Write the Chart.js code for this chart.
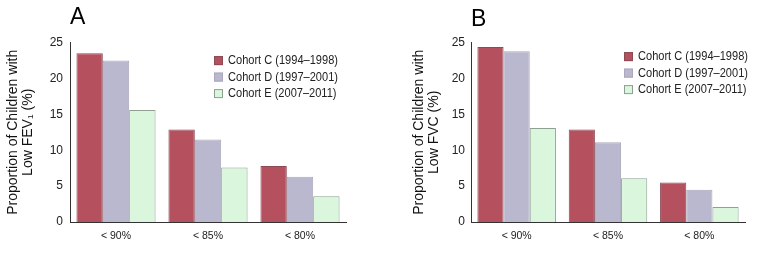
<!DOCTYPE html>
<html>
<head>
<meta charset="utf-8">
<script src="https://cdn.jsdelivr.net/npm/chart.js@4"></script>
<style>
  body { margin: 0; background: #fff; }
  .wrap { display: flex; width: 782px; height: 264px; }
  .panel { width: 391px; height: 264px; position: relative; }
</style>
</head>
<body>
<div class="wrap">
  <div class="panel"><canvas id="chartA" width="391" height="264"></canvas></div>
  <div class="panel"><canvas id="chartB" width="391" height="264"></canvas></div>
</div>
<script>
// categories and cohorts
var categories = ['< 90%', '< 85%', '< 80%'];
var cohorts = ['Cohort C (1994\u20131998)', 'Cohort D (1997\u20132001)', 'Cohort E (2007\u20132011)'];

// panel A: low FEV1
var fevC = [23.5, 12.9, 7.8];
var fevD = [22.5, 11.5, 6.3];
var fevE = [15.6, 7.6, 3.6];

// panel B: low FVC
var fvcC = [24.4, 12.9, 5.5];
var fvcD = [23.8, 11.1, 4.5];
var fvcE = [13.1, 6.1, 2.1];

var yTicks = [0, 5, 10, 15, 20, 25];

var fills = ['#b5505f', '#b9b8cf', '#daf7dd'];
var edges = ['#8c4a55', '#a9a8bd', '#8f9f92'];
var fontFam = '"Liberation Sans", Arial, Helvetica, sans-serif';

// legend drawn inside the plot area, top right (text a bit condensed like the original)
var insideLegend = {
    id: 'insideLegend',
    afterDraw: function(chart, args, opts) {
        var ctx = chart.ctx;
        var x = chart.chartArea.left + opts.x;
        var y = chart.chartArea.top + opts.y;
        ctx.save();
        ctx.font = '13px ' + fontFam;
        ctx.textBaseline = 'middle';
        chart.data.datasets.forEach(function(ds, i) {
            var yy = y + i * 16.5;
            ctx.fillStyle = ds.backgroundColor;
            ctx.fillRect(x, yy - 4.5, 9, 9);
            ctx.strokeStyle = ds.borderColor;
            ctx.lineWidth = 1;
            ctx.strokeRect(x + 0.5, yy - 4, 8, 8);
            ctx.save();
            ctx.translate(x + 14, yy);
            ctx.scale(0.85, 1);
            ctx.fillStyle = '#222';
            ctx.fillText(ds.label, 0, 0);
            ctx.restore();
        });
        ctx.restore();
    }
};

function makeChart(id, letter, yLines, c, d, e, cfg) {
    var sets = [c, d, e].map(function(vals, i) {
        return {
            label: cohorts[i],
            data: vals,
            backgroundColor: fills[i],
            borderColor: edges[i],
            borderWidth: 1,
            categoryPercentage: 0.86,
            barPercentage: 1.0
        };
    });

    return new Chart(document.getElementById(id), {
        type: 'bar',
        data: { labels: categories, datasets: sets },
        plugins: [insideLegend],
        options: {
            responsive: false,
            animation: false,
            layout: { padding: { left: 0, right: cfg.rightPad, top: 0, bottom: 0 } },
            plugins: {
                legend: { display: false },
                tooltip: { enabled: false },
                title: {
                    display: true,
                    text: letter,
                    align: 'start',
                    fullSize: false,
                    color: '#000',
                    font: { family: fontFam, size: 23, weight: 'normal' },
                    padding: cfg.titlePad
                },
                insideLegend: { x: cfg.legX, y: cfg.legY }
            },
            scales: {
                x: {
                    grid: { display: false, drawTicks: true, tickLength: 4, tickColor: '#333' },
                    border: { color: '#333', width: 1 },
                    ticks: { color: '#222', font: { family: fontFam, size: 10.5 }, padding: 4 },
                    afterFit: function(s) { s.height = 42; }
                },
                y: {
                    min: 0,
                    max: 25,
                    afterBuildTicks: function(s) {
                        s.ticks = yTicks.map(function(v) { return { value: v }; });
                    },
                    grid: { display: false, drawTicks: true, tickLength: 5, tickColor: '#333' },
                    border: { color: '#333', width: 1 },
                    ticks: { color: '#222', font: { family: fontFam, size: 12 }, padding: cfg.tickPad },
                    title: {
                        display: true,
                        text: yLines,
                        color: '#111',
                        font: { family: fontFam, size: 14, lineHeight: 1.1 },
                        padding: { top: cfg.yTitlePad, bottom: 0 }
                    },
                    afterFit: function(s) { s.width = cfg.leftW; }
                }
            }
        }
    });
}

makeChart('chartA', 'A', ['Proportion of Children with', 'Low FEV\u2081 (%)'], fevC, fevD, fevE,
    { leftW: 70, rightPad: 45, legX: 144, legY: 18, tickPad: 2, yTitlePad: 5, titlePad: { top: 4, bottom: 11 } });
makeChart('chartB', 'B', ['Proportion of Children with', 'Low FVC (%)'], fvcC, fvcD, fvcE,
    { leftW: 80, rightPad: 37, legX: 153, legY: 14, tickPad: 1, yTitlePad: 20, titlePad: { top: 6, bottom: 9 } });
</script>
</body>
</html>
